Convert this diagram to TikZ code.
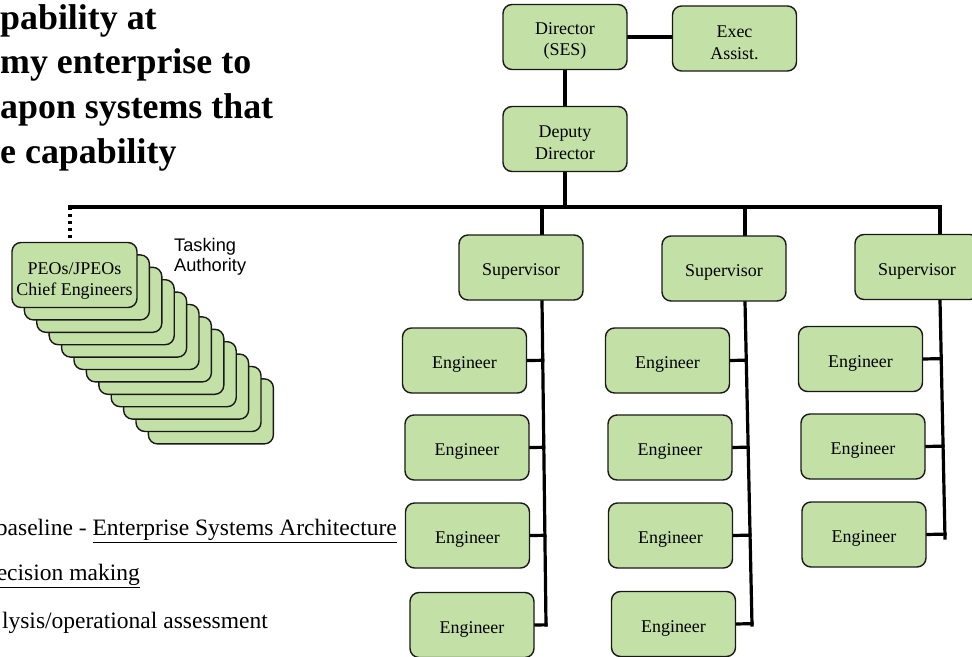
\documentclass[tikz,border=0pt]{standalone}
\usepackage{fontspec}
\setmainfont{Liberation Serif}
\newfontfamily\labelsans{Liberation Sans}
\usetikzlibrary{calc,backgrounds}
\definecolor{boxgreen}{RGB}{195,224,166}
\definecolor{boxedge}{RGB}{25,25,25}
% thick underline that keeps the baseline of its text
\newcommand\undl[1]{\leavevmode\vtop{\hbox{#1}\kern2.2pt\hrule height 1.1pt}}

\begin{document}
\begin{tikzpicture}[x=1bp,y=-1bp,
  boxtext/.style={align=center, inner sep=0pt, font=\fontsize{18}{22}\selectfont},
  unit/.style={draw=boxedge, line width=1.4bp, fill=boxgreen, rounded corners=9bp,
    minimum width=124bp, minimum height=65bp, inner sep=0pt,
    label={[boxtext, yshift=-4bp]center:#1}},
  unit/.default={},
  link/.style={line width=3.2bp, black, line cap=rect},
  tasklink/.style={line width=3.2bp, black, dash pattern=on 3bp off 4bp},
  heading/.style={anchor=base west, inner sep=0pt, font=\bfseries\fontsize{36}{44}\selectfont},
  note/.style={anchor=base east, inner sep=0pt, font=\fontsize{23.6}{28}\selectfont}]

\useasboundingbox (0,0) rectangle (972,657);

% heading text
\node[heading] (h1) at (0,30)  {pability at};
\node[heading] (h2) at (0,74)  {my enterprise to};
\node[heading] (h3) at (0,119) {apon systems that};
\node[heading] (h4) at (0,164) {e capability};

% notes
\node[note] (n1) at (397,535) {baseline - \undl{Enterprise Systems Architecture}};
\node[note] (n2) at (140,580) {\undl{ecision making}};
\node[note] (n3) at (268,628) {lysis/operational assessment};

% bus and column reference points
\coordinate (busL) at (70,207);
\coordinate (busR) at (940,207);
\coordinate (c1t) at (542,207);
\coordinate (c2t) at (745,207);
\coordinate (c1b) at (546,625);
\coordinate (c2b) at (752,625);
\coordinate (c3b) at (945,538);

% organisation boxes
\node[unit={Director\\(SES)}] (dir)  at (565,37)     {};
\node[unit={Exec\\Assist.}]   (exec) at (734.5,38.5) {};
\node[unit={Deputy\\Director}] (dep) at (565,139)    {};
\node[unit=Supervisor] (sup1) at (521,267.5)  {};
\node[unit=Supervisor] (sup2) at (724,268.5)  {};
\node[unit=Supervisor] (sup3) at (917,267)    {};
\node[unit=Engineer] (e11) at (464.5,360.5) {};
\node[unit=Engineer] (e12) at (467,447.5)   {};
\node[unit=Engineer] (e13) at (467.5,535.5) {};
\node[unit=Engineer] (e14) at (472,625)     {};
\node[unit=Engineer] (e21) at (667.5,360.5) {};
\node[unit=Engineer] (e22) at (670,447.5)   {};
\node[unit=Engineer] (e23) at (670.5,535.5) {};
\node[unit=Engineer] (e24) at (673.5,624)   {};
\node[unit=Engineer] (e31) at (860.5,359)   {};
\node[unit=Engineer] (e32) at (863,446.5)   {};
\node[unit=Engineer] (e33) at (864,534.5)   {};

% stacked PEO boxes, back to front
\foreach \i in {11,10,...,1}
  \node[unit, minimum width=125bp] (peo\i) at ({74.5+12.4*\i},{275+12.4*\i}) {};
\node[unit, minimum width=125bp] (peo0) at (74.5,275) {};
\node[boxtext] (peotext) at ([yshift=-6bp]peo0.center) {PEOs/JPEOs\\Chief Engineers};

% tasking label
\node[anchor=base west, inner sep=0pt, font=\labelsans\fontsize{18.3}{21}\selectfont]
  (task) at (174,251) {\begin{tabular}[t]{@{}l@{}}Tasking\\Authority\end{tabular}};

% connectors, underneath the boxes
\begin{scope}[on background layer]
\fill[white] (0,0) rectangle (972,657);
\draw[link] (dir.east) -- (dir.east -| exec.west);
\draw[link] (dir.south) -- (dep.north);
\draw[link] (dep.south) -- (dep.south |- busL);
\draw[link] (busL) -- (busR) -- (busR |- sup3.north);
\draw[link] (c1t) -- (c1t |- sup1.north);
\draw[link] (c2t) -- (c2t |- sup2.north);
\draw[tasklink] (busL) -- (busL |- peo0.north);
% column spines
\draw[link] (c1t |- sup1.south) -- (c1b);
\draw[link] (c2t |- sup2.south) -- (c2b);
\draw[link] (busR |- sup3.south) -- (c3b);
% engineer stubs
\foreach \e in {e11,e12,e13,e14}
  \draw[link] (\e.east) -- ($(c1t |- sup1.south)!(\e.east)!(c1b)$);
\foreach \e in {e21,e22,e23,e24}
  \draw[link] (\e.east) -- ($(c2t |- sup2.south)!(\e.east)!(c2b)$);
\foreach \e in {e31,e32,e33}
  \draw[link] (\e.east) -- ($(busR |- sup3.south)!(\e.east)!(c3b)$);
\end{scope}

\end{tikzpicture}
\end{document}
